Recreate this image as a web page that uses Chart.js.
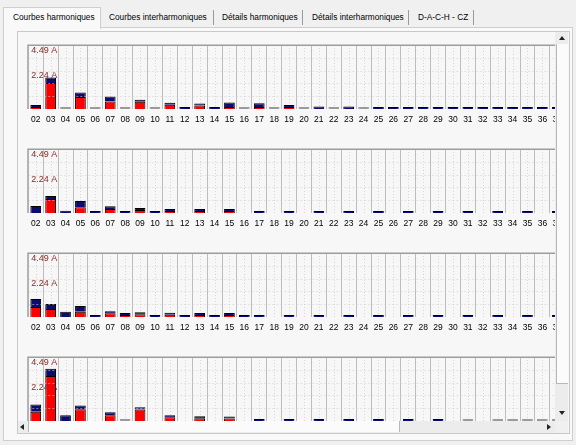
<!DOCTYPE html>
<html>
<head>
<meta charset="utf-8">
<script src="https://cdn.jsdelivr.net/npm/chart.js@4.4.0/dist/chart.umd.min.js"></script>
<style>
  body { margin: 0; width: 576px; height: 445px; background: #f0f0f0; position: relative; overflow: hidden;
         font-family: "Liberation Sans", Arial, sans-serif; }
  .abs { position: absolute; }
  .tab { position: absolute; top: 12px; font-size: 8.3px; color: #000; white-space: nowrap; }
  .sep { position: absolute; top: 10px; width: 1px; height: 15px; background: #9a9a9a; }
  .fleche { position: absolute; width: 0; height: 0; }
</style>
</head>
<body>
<!-- onglets -->
<div class="abs" style="left:3px;top:27px;width:568px;height:412px;border:1px solid #cfcfcf;background:#f9f9f9"></div>
<div class="abs" style="left:3px;top:7px;width:96px;height:21px;border:1px solid #cfcfcf;border-bottom:none;background:#f9f9f9"></div>
<span class="tab" style="left:13px">Courbes harmoniques</span>
<span class="tab" style="left:109px">Courbes interharmoniques</span>
<div class="sep" style="left:213px"></div>
<span class="tab" style="left:222px">Détails harmoniques</span>
<div class="sep" style="left:302px"></div>
<span class="tab" style="left:312px">Détails interharmoniques</span>
<div class="sep" style="left:408px"></div>
<span class="tab" style="left:418px">D-A-C-H - CZ</span>
<div class="sep" style="left:473px"></div>

<!-- cadre et zone de defilement -->
<div class="abs" style="left:17px;top:31px;width:551px;height:401px;border:1px solid #c9c9c9;background:#f7f7f7"></div>
<div id="vue" class="abs" style="left:18px;top:32px;width:537px;height:389px;overflow:hidden">
  <canvas id="c1" class="abs" width="543" height="87" style="left:7px;top:12px"></canvas>
  <canvas id="c2" class="abs" width="543" height="87" style="left:7px;top:116px"></canvas>
  <canvas id="c3" class="abs" width="543" height="87" style="left:7px;top:220px"></canvas>
  <canvas id="c4" class="abs" width="543" height="87" style="left:7px;top:324px"></canvas>
</div>

<!-- barre verticale -->
<div class="abs" style="left:555px;top:32px;width:13px;height:389px;background:#ececec"></div>
<div class="abs" style="left:556px;top:44px;width:11px;height:339px;background:#fbfbfb;border-left:1px solid #b8b8b8;border-bottom:1px solid #b8b8b8"></div>
<div class="fleche" style="left:559px;top:36px;border-left:3px solid transparent;border-right:3px solid transparent;border-bottom:4px solid #222"></div>
<div class="fleche" style="left:559px;top:411px;border-left:3px solid transparent;border-right:3px solid transparent;border-top:4px solid #222"></div>

<!-- barre horizontale -->
<div class="abs" style="left:18px;top:421px;width:537px;height:12px;background:#ececec"></div>
<div class="abs" style="left:28px;top:421px;width:370px;height:11px;background:#fbfbfb;border-left:1px solid #b8b8b8;border-right:1px solid #b8b8b8"></div>
<div class="fleche" style="left:20px;top:424px;border-top:3px solid transparent;border-bottom:3px solid transparent;border-right:4px solid #222"></div>
<div class="fleche" style="left:547px;top:424px;border-top:3px solid transparent;border-bottom:3px solid transparent;border-left:4px solid #222"></div>
<div class="abs" style="left:555px;top:421px;width:13px;height:12px;background:#f0f0f0"></div>

<script>
// rangs harmoniques affiches
var rangs = ['02','03','04','05','06','07','08','09','10','11','12','13','14','15','16','17','18','19',
             '20','21','22','23','24','25','26','27','28','29','30','31','32','33','34','35','36','37'];

var echelleMax = 4.49;
var echelleLabels = ['4.49 A', '2.24 A'];

// valeurs (A) ; 0 = trait gris, null = rien
var rouge1 = [0.08,1.82,0,0.84,0,0.53,0,0.51,0,0.30,null,0.25,null,0.04,0,0.04,0,0.08,
              0,null,0,null,0,null,null,null,null,null,null,null,null,null,null,null,null,null];
var bleu1  = [0.06,0.39,null,0.32,null,0.35,null,0.07,null,0.12,0.06,0.10,0.06,0.31,null,0.26,null,0.14,
              null,0.18,null,0.17,null,0.12,0.07,0.12,0.06,0.06,0.06,0.06,0.06,0.06,0.06,0.06,0.06,0.06];

var rouge2 = [null,0.98,null,0.40,null,0.28,null,0.21,null,0.14,null,0.05,null,0.05,null,null,null,null,
              null,null,null,null,null,null,null,null,null,null,null,null,null,null,null,null,null,null];
var bleu2  = [0.49,0.21,0.16,0.44,0.05,0.20,0.05,0.09,0.05,0.06,null,0.05,null,0.05,null,0.06,null,0.06,
              null,0.06,null,0.06,null,0.06,null,0.06,null,0.06,null,0.06,null,0.06,null,0.06,null,0.06];

var rouge3 = [0.70,0.56,null,0.37,null,0.26,0.05,0.20,null,0.15,null,0.06,null,0.04,null,null,null,null,
              null,null,null,null,null,null,null,null,null,null,null,null,null,null,null,null,null,null];
var bleu3  = [0.56,0.35,0.37,0.40,0.05,0.14,0.05,0.05,0.05,0.05,0.05,0.04,0.05,0.05,0.05,0.06,null,0.06,
              null,0.06,null,0.06,null,0.06,null,0.06,null,0.06,null,0.06,null,0.06,null,0.06,null,0.06];

var rouge4 = [0.65,3.16,null,0.82,null,0.40,0,0.80,null,0.26,null,0.20,null,0.18,null,null,null,null,
              null,null,null,null,null,null,null,null,null,null,null,0,null,0,0,0,0,0];
var bleu4  = [0.51,0.51,0.40,0.26,null,0.21,null,0.16,null,0.14,null,0.10,null,0.12,null,0.10,null,0.08,
              null,0.08,null,0.07,null,0.07,null,0.08,null,0.08,null,null,null,null,null,null,null,null];

var grille = {
    id: 'grille',
    beforeDatasetsDraw: function (chart) {
        var ctx = chart.ctx, a = chart.chartArea, x = chart.scales.x;
        var pas = x.getPixelForValue(1) - x.getPixelForValue(0);
        ctx.save();
        ctx.lineWidth = 1;
        for (var i = 0; i < rangs.length; i++) {
            var cx = Math.round(x.getPixelForValue(i));
            // trait plein entre les rangs
            ctx.strokeStyle = '#bdbdbd';
            ctx.setLineDash([]);
            ctx.beginPath();
            ctx.moveTo(Math.round(cx + pas / 2) + 0.5, a.top);
            ctx.lineTo(Math.round(cx + pas / 2) + 0.5, a.bottom);
            ctx.stroke();
            // pointille au centre
            ctx.strokeStyle = '#d6d6d6';
            ctx.setLineDash([1, 2]);
            ctx.beginPath();
            ctx.moveTo(cx + 0.5, a.top);
            ctx.lineTo(cx + 0.5, a.bottom);
            ctx.stroke();
        }
        ctx.restore();
    },
    afterDatasetsDraw: function (chart) {
        var ctx = chart.ctx, a = chart.chartArea, y = chart.scales.y;
        ctx.save();
        ctx.lineWidth = 1;
        ctx.strokeStyle = 'rgba(210,210,210,0.55)';
        ctx.setLineDash([2, 2]);
        for (var k = 1; k < 5; k++) {
            var py = Math.round(y.getPixelForValue(echelleMax * k / 5)) + 0.5;
            ctx.beginPath();
            ctx.moveTo(a.left, py);
            ctx.lineTo(a.right, py);
            ctx.stroke();
        }
        // bord haut et gauche
        ctx.setLineDash([]);
        ctx.strokeStyle = '#9d9d9d';
        ctx.lineWidth = 1.5;
        ctx.beginPath();
        ctx.moveTo(a.left - 0.25, a.bottom);
        ctx.lineTo(a.left - 0.25, a.top + 0.25);
        ctx.lineTo(a.right, a.top + 0.25);
        ctx.stroke();
        // libelles d'echelle
        ctx.fillStyle = '#8a2a2a';
        ctx.font = '9px "Liberation Sans", Arial, sans-serif';
        ctx.textBaseline = 'middle';
        ctx.fillText(echelleLabels[0], a.left + 3, y.getPixelForValue(echelleMax) + 6);
        ctx.fillText(echelleLabels[1], a.left + 3, y.getPixelForValue(echelleMax / 2) - 1);
        ctx.restore();
    }
};

function dessiner(id, rouge, bleu) {
    new Chart(document.getElementById(id), {
        type: 'bar',
        data: {
            labels: rangs,
            datasets: [
                {
                    label: 'rouge',
                    data: rouge,
                    backgroundColor: function (c) { return c.raw === 0 ? '#9a9a9a' : '#ff0000'; },
                    borderColor: function (c) { return c.raw === 0 ? '#9a9a9a' : '#000000'; },
                    borderWidth: 1,
                    minBarLength: 2,
                    barPercentage: 0.72,
                    categoryPercentage: 1.0
                },
                {
                    label: 'bleu',
                    data: bleu,
                    backgroundColor: '#0c0c70',
                    borderColor: '#000000',
                    borderWidth: 1,
                    minBarLength: 2,
                    barPercentage: 0.72,
                    categoryPercentage: 1.0
                }
            ]
        },
        options: {
            responsive: false,
            animation: false,
            devicePixelRatio: 1,
            layout: { padding: { left: 1, right: 2, top: 1, bottom: 0 } },
            plugins: { legend: { display: false }, tooltip: { enabled: false } },
            scales: {
                x: {
                    stacked: true,
                    grid: { display: false, drawTicks: false },
                    border: { display: false },
                    ticks: {
                        autoSkip: false, maxRotation: 0, padding: 6, color: '#000',
                        font: { size: 8.5, family: '"Liberation Sans", Arial, sans-serif' }
                    },
                    afterFit: function (s) { s.height = 22; }
                },
                y: {
                    stacked: true,
                    display: false,
                    min: 0,
                    max: echelleMax
                }
            }
        },
        plugins: [grille]
    });
}

dessiner('c1', rouge1, bleu1);
dessiner('c2', rouge2, bleu2);
dessiner('c3', rouge3, bleu3);
dessiner('c4', rouge4, bleu4);
</script>
</body>
</html>
